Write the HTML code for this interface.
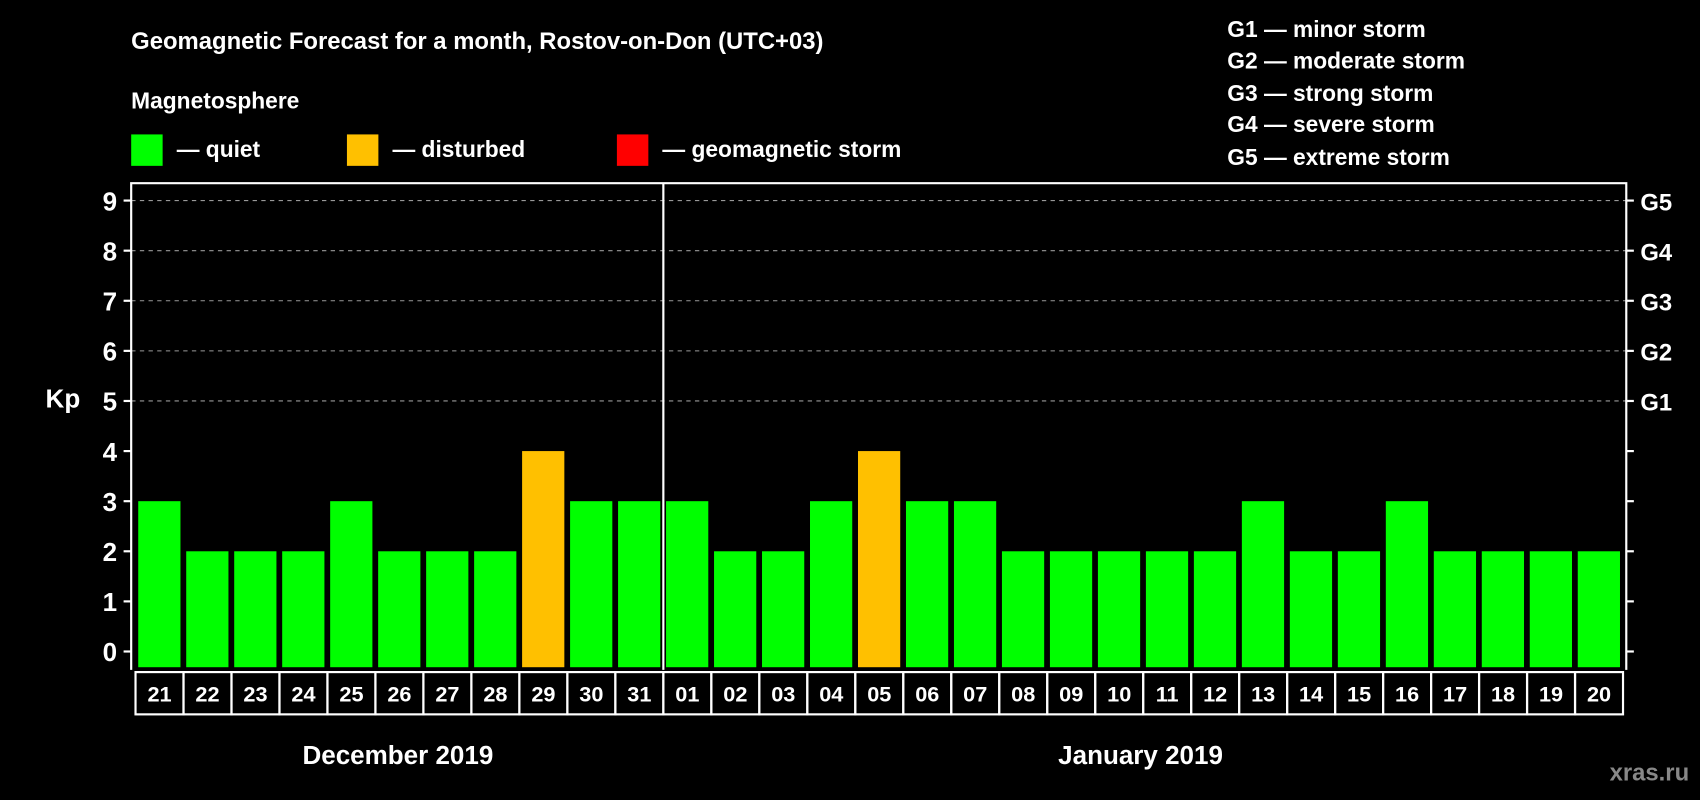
<!DOCTYPE html>
<html><head><meta charset="utf-8"><style>html,body{margin:0;padding:0;background:#000}svg{display:block}text{font-family:"Liberation Sans",Arial,sans-serif;font-weight:bold;fill:#fff}</style></head>
<body>
<svg width="1700" height="800" viewBox="0 0 1568 738" preserveAspectRatio="none" xmlns="http://www.w3.org/2000/svg">
<rect width="1568" height="738" fill="#000"/>
<text x="121" y="45" font-size="22">Geomagnetic Forecast for a month, Rostov-on-Don (UTC+03)</text>
<text x="121" y="100" font-size="21">Magnetosphere</text>
<rect x="121" y="124" width="29" height="29" fill="#00ff00"/>
<text x="163" y="145" font-size="21">— quiet</text>
<rect x="320" y="124" width="29" height="29" fill="#ffc000"/>
<text x="362" y="145" font-size="21">— disturbed</text>
<rect x="569" y="124" width="29" height="29" fill="#ff0000"/>
<text x="611" y="145" font-size="21">— geomagnetic storm</text>
<g font-size="21">
<text x="1132" y="34">G1 — minor storm</text>
<text x="1132" y="63">G2 — moderate storm</text>
<text x="1132" y="93">G3 — strong storm</text>
<text x="1132" y="122">G4 — severe storm</text>
<text x="1132" y="152">G5 — extreme storm</text>
</g>
<text x="58" y="376" font-size="24" text-anchor="middle">Kp</text>
<g id="grid"></g>
<g id="bars"></g>
<g id="axes"></g>
<g id="days"></g>
<text x="367" y="705" font-size="24" text-anchor="middle">December 2019</text>
<text x="1052" y="705" font-size="24" text-anchor="middle">January 2019</text>
<text x="1558" y="720" font-size="22" text-anchor="end" style="fill:#888">xras.ru</text>
</svg>
<script>
const days=["21","22","23","24","25","26","27","28","29","30","31","01","02","03","04","05","06","07","08","09","10","11","12","13","14","15","16","17","18","19","20"];
const kpValues=[3,2,2,2,3,2,2,2,4,3,3,3,2,2,3,4,3,3,2,2,2,2,2,3,2,2,3,2,2,2,2];
const yTicks=[0,1,2,3,4,5,6,7,8,9];
const gLabels=["","","","","","G1","G2","G3","G4","G5"];
const NS="http://www.w3.org/2000/svg";
const L=121,R=1500,T=169,B=618,cellX0=125,cellW=(1497-125)/31;
function y(v){return 601-v*46.22;}
function x(i){return cellX0+i*cellW;}
function mk(p,t,a){const e=document.createElementNS(NS,t);for(const k in a)e.setAttribute(k,a[k]);document.getElementById(p).appendChild(e);return e;}
yTicks.forEach((v,i)=>{
 if(v>=5){const g=mk('grid','line',{x1:L,x2:R,y1:y(v),y2:y(v),stroke:'#999','stroke-dasharray':'4,4','stroke-width':1});
 
 }
 const t1=mk('axes','line',{x1:L-7,x2:L,y1:y(v),y2:y(v),stroke:'#fff','stroke-width':2});
 
 
 const t2=mk('axes','line',{x1:R,x2:R+7,y1:y(v),y2:y(v),stroke:'#fff','stroke-width':2});
 
 
 const lb=mk('axes','text',{x:L-13,y:y(v)+9,'font-size':24,'text-anchor':'end'});lb.textContent=v;
 
 
 if(gLabels[i]){const gl=mk('axes','text',{x:R+13,y:y(v)+9,'font-size':22});gl.textContent=gLabels[i];
 
 }
});
kpValues.forEach((v,i)=>{
 const c=v>=5?'#ff0000':(v>=4?'#ffc000':'#00ff00');
 const b=mk('bars','rect',{x:x(i)+2.5,y:y(v),width:cellW-5.3,height:615.5-y(v),fill:c});
 
 
 const cell=mk('days','rect',{x:x(i),y:620,width:cellW,height:39,fill:'none',stroke:'#fff','stroke-width':2});
 
 
 const t=mk('days','text',{x:x(i)+cellW/2,y:647,'font-size':20,'text-anchor':'middle'});t.textContent=days[i];
 
 
});
const fr=mk('axes','path',{d:`M${L} ${B} V${T} H${R} V${B}`,fill:'none',stroke:'#fff','stroke-width':2});


const sep=mk('axes','line',{x1:x(11),x2:x(11),y1:T,y2:B,stroke:'#fff','stroke-width':2});


</script>
</body></html>
